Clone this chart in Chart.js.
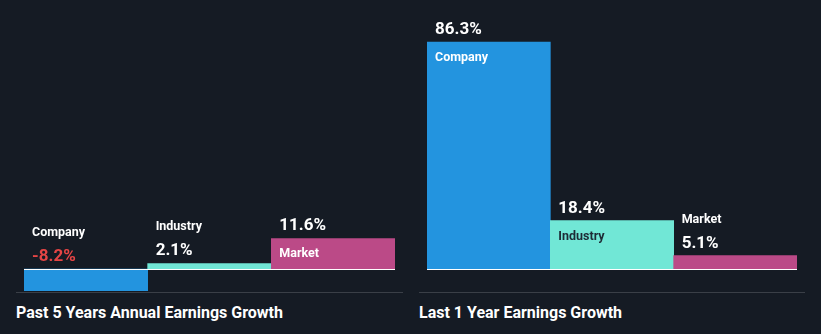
<!DOCTYPE html>
<html lang="en">
  <head>
    <meta charset="UTF-8" />
    <title>Earnings Growth</title>
    <script src="https://cdn.jsdelivr.net/npm/chart.js"></script>
    <style>
      * {
        margin: 0;
        padding: 0;
        box-sizing: border-box;
      }
      body {
        width: 821px;
        height: 334px;
        background: #151b24;
        font-family: Roboto, Arial, sans-serif;
        position: relative;
        overflow: hidden;
      }
      .plot {
        position: absolute;
        top: 0;
        height: 292px;
      }
      .rule {
        position: absolute;
        top: 292px;
        height: 1px;
        background: #3a3f47;
      }
      .title {
        position: absolute;
        top: 305px;
        font-size: 16px;
        line-height: 16px;
        font-weight: bold;
        color: #fff;
        white-space: nowrap;
      }
    </style>
  </head>
  <body>
    <div class="plot" style="left: 24px; width: 371px"><canvas id="pastChart"></canvas></div>
    <div class="plot" style="left: 427px; width: 370px"><canvas id="lastChart"></canvas></div>
    <div class="rule" style="left: 16px; width: 387px"></div>
    <div class="rule" style="left: 419px; width: 386px"></div>
    <div class="title" id="pastTitle" style="left: 16px"></div>
    <div class="title" id="lastTitle" style="left: 419px"></div>

    <script>
      const categories = ["Company", "Industry", "Market"];
      const past5Years = [-8.2, 2.1, 11.6];
      const lastYear = [86.3, 18.4, 5.1];
      const barColors = ["#2394df", "#71e7d6", "#bb4a87"];
      // name colour when it sits inside the bar
      const insideNameColors = ["#ffffff", "#1d2b35", "#ffffff"];
      const titles = [
        "Past 5 Years Annual Earnings Growth",
        "Last 1 Year Earnings Growth",
      ];

      document.getElementById("pastTitle").textContent = titles[0];
      document.getElementById("lastTitle").textContent = titles[1];

      // name + value labels, and the white zero line
      const barLabels = {
        id: "barLabels",
        afterDatasetsDraw(chart) {
          const ctx = chart.ctx;
          const area = chart.chartArea;
          const zeroY = Math.round(chart.scales.y.getPixelForValue(0)) + 0.5;
          const values = chart.data.datasets[0].data;

          ctx.save();
          ctx.strokeStyle = "#ffffff";
          ctx.lineWidth = 1;
          ctx.beginPath();
          ctx.moveTo(area.left, zeroY);
          ctx.lineTo(area.right, zeroY);
          ctx.stroke();

          chart.getDatasetMeta(0).data.forEach((bar, i) => {
            const v = values[i];
            const left = bar.x - bar.width / 2 + 8;
            const top = Math.min(bar.y, bar.base);
            const valueText = v.toFixed(1) + "%";
            const valueColor = v < 0 ? "#e64545" : "#ffffff";
            ctx.textAlign = "left";
            ctx.textBaseline = "alphabetic";

            ctx.font = "bold 17px Roboto";
            ctx.fillStyle = valueColor;
            ctx.fillText(valueText, left, top - 8);

            ctx.font = "bold 12.5px Roboto";
            if (v > 0 && bar.base - bar.y > 20) {
              ctx.fillStyle = insideNameColors[i];
              ctx.fillText(categories[i], left, top + 19);
            } else {
              ctx.fillStyle = "#ffffff";
              ctx.fillText(categories[i], left, top - 33);
            }
          });
          ctx.restore();
        },
      };

      function makeChart(id, values) {
        const ctx = document.getElementById(id).getContext("2d");
        return new Chart(ctx, {
          type: "bar",
          data: {
            labels: categories,
            datasets: [
              {
                data: values,
                backgroundColor: barColors,
                borderWidth: 0,
                barPercentage: 1,
                categoryPercentage: 1,
              },
            ],
          },
          options: {
            responsive: true,
            maintainAspectRatio: false,
            animation: false,
            layout: { padding: 0 },
            plugins: {
              legend: { display: false },
              tooltip: { enabled: false },
            },
            scales: {
              x: { display: false },
              y: { display: false, min: -8.75, max: 102.3 },
            },
          },
          plugins: [barLabels],
        });
      }

      makeChart("pastChart", past5Years);
      makeChart("lastChart", lastYear);
    </script>
  </body>
</html>
